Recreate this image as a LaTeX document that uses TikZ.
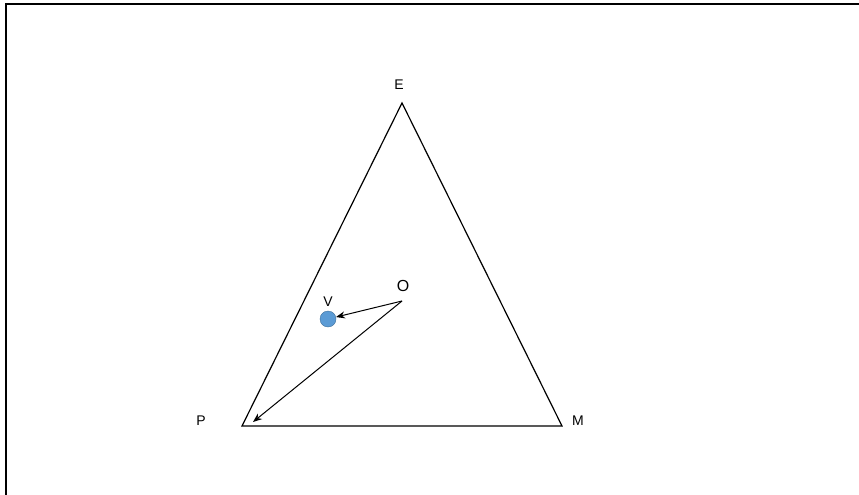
\documentclass[tikz,border=0pt]{standalone}
\usepackage{fontspec}
\setmainfont{Liberation Sans}
\usetikzlibrary{arrows.meta, positioning}
\definecolor{dotBlue}{RGB}{91, 155, 213}
\definecolor{dotEdge}{RGB}{65, 113, 156}

\begin{document}
\begin{tikzpicture}[x=1pt, y=-1pt,
    lbl/.style={font=\fontsize{14}{16}\selectfont, inner sep=0pt},
    vec/.style={-{Stealth[length=9pt, width=7pt]}, line width=1pt}]
      \useasboundingbox (0,0) rectangle (859,495);

      % Frame
      \draw[line width=2.5pt] (6,495) -- (6,4) -- (859,4);

      % Triangle corners
      \coordinate (E) at (402,103);
      \coordinate (P) at (242,426);
      \coordinate (M) at (562,426);
      \coordinate (O) at (402,301);
      \coordinate (Ptip) at (253,422);
      \draw[line width=1.2pt] (E) -- (P) -- (M) -- cycle;

      % Corner labels
      \node[lbl] (eLabel) at (399,85) {E};
      \node[lbl] (pLabel) at (201,421) {P};
      \node[lbl] (mLabel) at (578,421) {M};
      \node[lbl, font=\fontsize{16}{18}\selectfont] (oLabel) at (403,286) {O};

      % Point V
      \node[circle, fill=dotBlue, draw=dotEdge, minimum size=16pt, inner sep=0pt] (V) at (328,319) {};
      \node[lbl] (vLabel) at (328,302) {V};

      % Arrows from O
      \draw[vec] (O) -- (V);
      \draw[vec] (O) -- (Ptip);
    \end{tikzpicture}
\end{document}
